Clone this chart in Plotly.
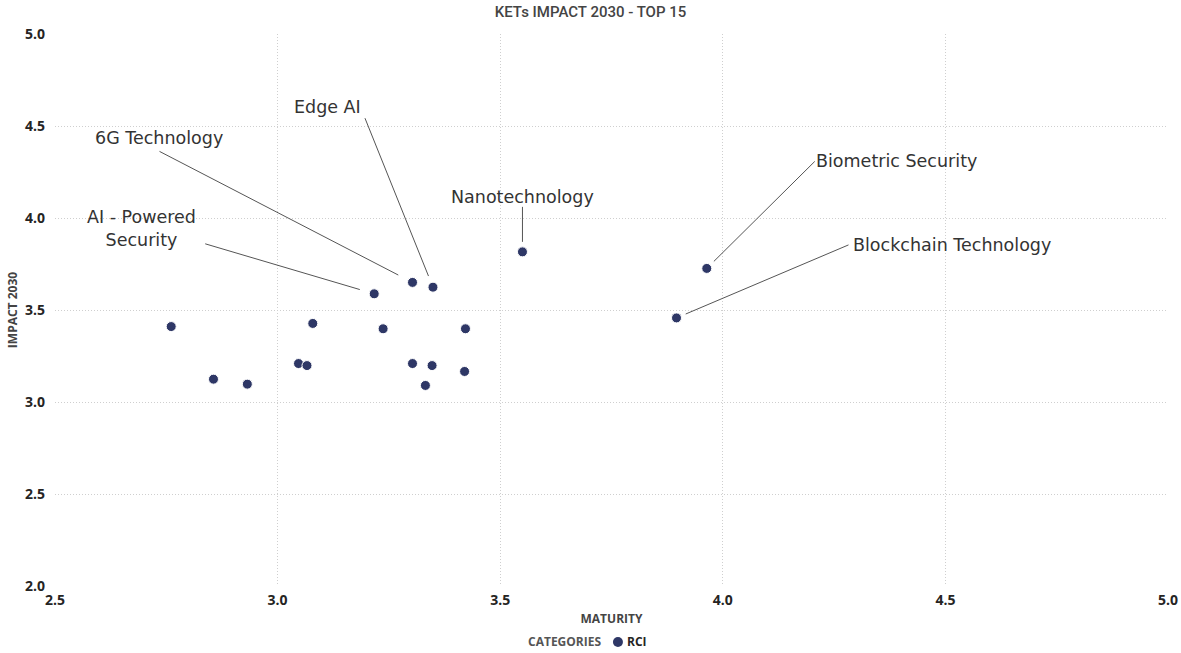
import plotly.graph_objects as go

# --- data -------------------------------------------------------------
maturity = [2.761, 2.856, 2.932, 3.047, 3.066, 3.079, 3.217, 3.237, 3.303,
            3.303, 3.349, 3.347, 3.332, 3.422, 3.420, 3.550, 3.964, 3.896]
impact = [3.410, 3.124, 3.097, 3.209, 3.198, 3.427, 3.588, 3.398, 3.650,
          3.209, 3.624, 3.198, 3.090, 3.398, 3.166, 3.816, 3.726, 3.457]
technology = ["", "", "", "", "", "", "AI - Powered<br>Security", "",
              "6G Technology", "", "Edge AI", "", "", "", "",
              "Nanotechnology", "Biometric Security", "Blockchain Technology"]
series_name = "RCI"
legend_title = "CATEGORIES"

# --- label placement (pixel offsets from the marker) ------------------
# name: (leader tail dx, dy, text centre dx, dy, standoff)
label_layout = {
    "AI - Powered<br>Security": (-169, -50, -233, -65, 15),
    "6G Technology": (-253, -131, -254, -144, 16),
    "Edge AI": (-68, -169, -105, -180, 12),
    "Nanotechnology": (0, -45, 0, -55, 10),
    "Biometric Security": (108, -107, 190, -107, 10),
    "Blockchain Technology": (172, -73, 275, -73, 10),
}

DOT = "#2E3766"
TEXT = "#252423"
GRID = "#cfcfcf"
LEGEND_Y = -0.1014  # in plot-area fractions, below the x-axis title

fig = go.Figure()
fig.add_trace(go.Scatter(
    x=maturity, y=impact, mode="markers", name=series_name,
    marker=dict(color=DOT, size=10, line=dict(color="white", width=1)),
    showlegend=False,
))

annotations = []
for x, y, name in zip(maturity, impact, technology):
    if not name:
        continue
    tdx, tdy, lx, ly, stand = label_layout[name]
    # leader line
    annotations.append(dict(
        x=x, y=y, xref="x", yref="y", text="", showarrow=True,
        ax=tdx, ay=tdy, axref="pixel", ayref="pixel",
        arrowhead=0, arrowwidth=1, arrowcolor="#555555", standoff=stand,
        font=dict(size=1), borderpad=0, borderwidth=0,
    ))
    # label text
    annotations.append(dict(
        x=x, y=y, xref="x", yref="y", text=name, showarrow=False,
        xshift=lx, yshift=-ly, xanchor="center", yanchor="middle",
        align="center",
        font=dict(family="DejaVu Sans", size=17.5, color="#333333"),
    ))

# compact legend: title, swatch, series name
legend_font = dict(family="Open Sans", size=12, weight="bold")
annotations.append(dict(
    x=0.4924, y=LEGEND_Y, xref="paper", yref="paper", showarrow=False,
    xanchor="right", yanchor="middle", text=legend_title,
    font=dict(**legend_font, color="#555555"),
))
annotations.append(dict(
    x=0.5121, y=LEGEND_Y, xref="paper", yref="paper", showarrow=False,
    xanchor="left", yanchor="middle", text=series_name,
    font=dict(**legend_font, color=TEXT),
))
shapes = [dict(
    type="circle", xref="paper", yref="paper",
    xsizemode="pixel", ysizemode="pixel",
    xanchor=0.5058, yanchor=LEGEND_Y, x0=-5, x1=5, y0=-5, y1=5,
    fillcolor=DOT, line=dict(width=0),
)]

fig.update_layout(
    width=1181, height=653,
    margin=dict(l=55, r=13, t=34, b=67, autoexpand=False),
    paper_bgcolor="white", plot_bgcolor="white",
    title=dict(text="KETs IMPACT 2030 - TOP 15", x=0.5, xref="container",
               xanchor="center", y=1 - 12 / 653, yref="container",
               yanchor="middle",
               font=dict(family="Roboto", size=15, weight=500,
                         color="#444444")),
    annotations=annotations,
    shapes=shapes,
    showlegend=False,
)

fig.update_xaxes(
    range=[2.5, 5.0], dtick=0.5, tickformat=".1f", automargin=False,
    showgrid=True, gridcolor=GRID, griddash="1px,2px", gridwidth=1,
    zeroline=False, showline=False, ticks="", ticklabelstandoff=4,
    tickfont=dict(family="Open Sans", size=14, weight="bold", color=TEXT),
    title=dict(text="MATURITY", standoff=6,
               font=dict(family="Open Sans", size=12, weight="bold",
                         color="#444444")),
)
fig.update_yaxes(
    range=[2.0, 5.0], dtick=0.5, tickformat=".1f", automargin=False,
    showgrid=True, gridcolor=GRID, griddash="1px,2px", gridwidth=1,
    zeroline=False, showline=False, ticks="", ticklabelstandoff=9,
    tickfont=dict(family="Open Sans", size=14, weight="bold", color=TEXT),
    title=dict(text="IMPACT 2030", standoff=4,
               font=dict(family="Open Sans", size=12, weight="bold",
                         color="#444444")),
)

fig.write_html("out.html")
